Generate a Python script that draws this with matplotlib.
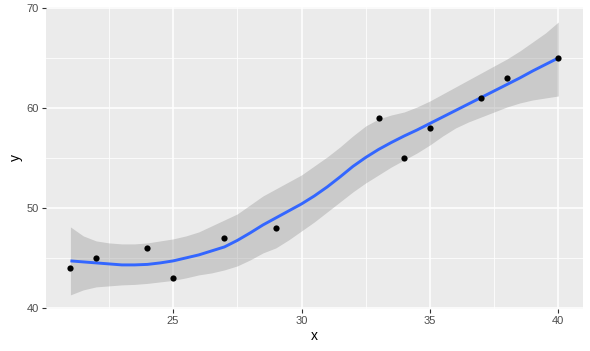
import matplotlib
matplotlib.use("Agg")
import matplotlib.pyplot as plt
from matplotlib.ticker import MultipleLocator

# observed points
x_pts = [21, 22, 24, 25, 27, 29, 33, 34, 35, 37, 38, 40]
y_pts = [44, 45, 46, 43, 47, 48, 59, 55, 58, 61, 63, 65]

# smooth fit and confidence band
x_fit = [21, 21.5, 22, 22.5, 23, 23.5, 24, 24.5, 25, 25.5, 26, 26.5, 27, 27.5,
         28, 28.5, 29, 29.5, 30, 30.5, 31, 31.5, 32, 32.5, 33, 33.5, 34, 34.5,
         35, 35.5, 36, 36.5, 37, 37.5, 38, 38.5, 39, 39.5, 40]
y_fit = [44.7, 44.6, 44.5, 44.4, 44.3, 44.3, 44.35, 44.5, 44.7, 45.0, 45.3, 45.7, 46.1, 46.75,
         47.5, 48.3, 49.0, 49.7, 50.4, 51.2, 52.1, 53.1, 54.15, 55.05, 55.85, 56.55, 57.2, 57.8,
         58.45, 59.1, 59.75, 60.4, 61.05, 61.7, 62.35, 63.0, 63.7, 64.35, 65.0]
y_hi = [48.1, 47.2, 46.7, 46.5, 46.4, 46.4, 46.5, 46.7, 46.9, 47.2, 47.6, 48.2, 48.8, 49.4,
        50.3, 51.2, 51.9, 52.6, 53.3, 54.2, 55.1, 56.1, 57.2, 58.2, 58.9, 59.3, 59.6, 60.1,
        60.7, 61.4, 62.1, 62.8, 63.5, 64.2, 64.9, 65.7, 66.6, 67.5, 68.6]
y_lo = [41.3, 41.8, 42.1, 42.2, 42.3, 42.35, 42.45, 42.6, 42.75, 43.0, 43.3, 43.5, 43.8, 44.2,
        44.8, 45.5, 46.0, 46.8, 47.7, 48.6, 49.6, 50.6, 51.6, 52.5, 53.3, 54.1, 54.8, 55.5,
        56.3, 57.2, 58.0, 58.6, 59.1, 59.6, 60.1, 60.5, 60.8, 61.0, 61.2]

x_ticks = [25, 30, 35, 40]
y_ticks = [40, 50, 60, 70]

plt.rcParams['font.family'] = ['Liberation Sans', 'DejaVu Sans']
fig = plt.figure(figsize=(5.9, 3.51), dpi=100)
ax = fig.add_axes([0.078, 0.12, 0.9096, 0.86])
ax.set_facecolor('#EBEBEB')

ax.fill_between(x_fit, y_lo, y_hi, color='#999999', alpha=0.4, lw=0, zorder=2)
ax.plot(x_fit, y_fit, color='#3366FF', lw=2.1, zorder=3, solid_capstyle='butt')
ax.scatter(x_pts, y_pts, s=20, color='black', zorder=4, linewidths=0)

xr = max(x_pts) - min(x_pts)
ax.set_xlim(min(x_pts) - 0.05 * xr, max(x_pts) + 0.05 * xr)
ax.set_ylim(39.9, 70.1)

ax.set_xticks(x_ticks)
ax.set_yticks(y_ticks)
ax.xaxis.set_minor_locator(MultipleLocator(2.5))
ax.yaxis.set_minor_locator(MultipleLocator(5))
ax.grid(which='major', color='white', lw=1.1, zorder=0)
ax.grid(which='minor', color='white', lw=0.55, zorder=0)
ax.set_axisbelow(True)
for s in ax.spines.values():
    s.set_visible(False)
ax.tick_params(which='major', length=3, width=0.8, color='#333333', labelcolor='#4D4D4D', labelsize=8, pad=2)
ax.tick_params(which='minor', length=0)
ax.set_xlabel('x', fontsize=10, labelpad=2)
ax.set_ylabel('y', fontsize=10, labelpad=3)

fig.savefig('out.png', dpi=100)
